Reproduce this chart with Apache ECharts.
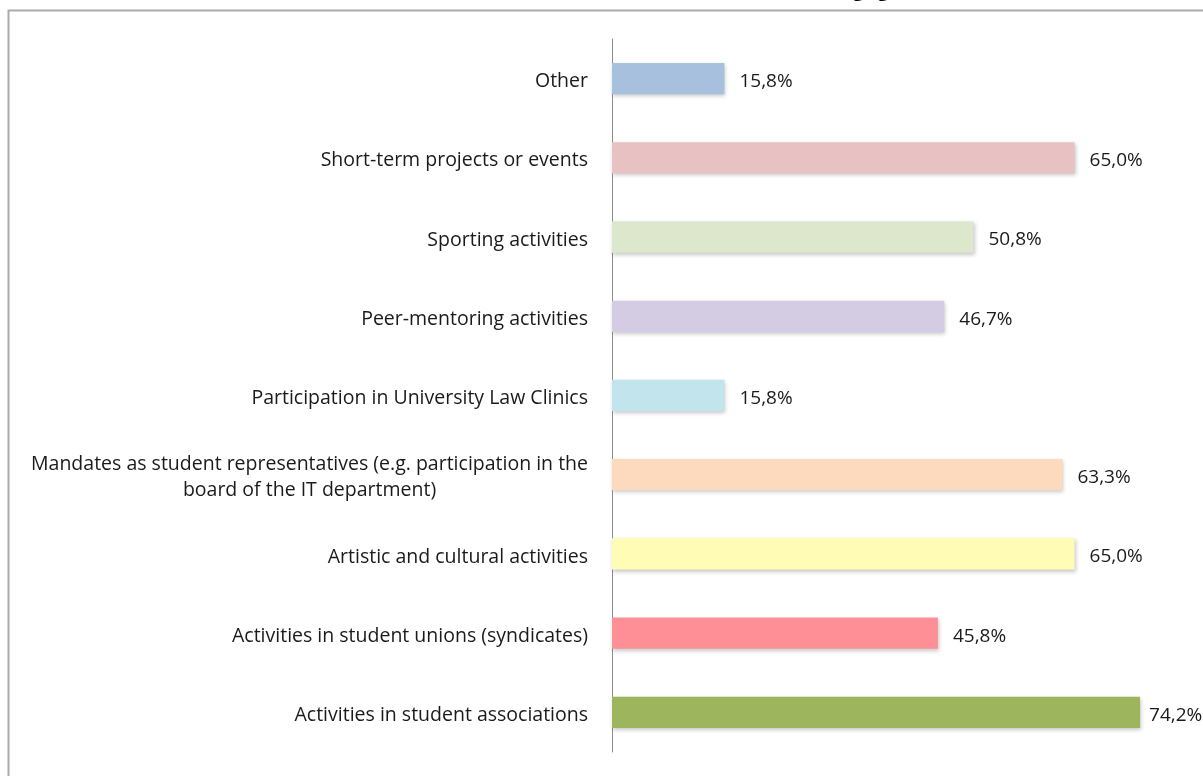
<!DOCTYPE html>
<html>
<head>
<meta charset="utf-8">
<script src="https://cdn.jsdelivr.net/npm/echarts@6/dist/echarts.min.js"></script>
<style>
html,body{margin:0;padding:0;background:#fff;}
#chart{width:1203px;height:776px;}
</style>
</head>
<body>
<div id="chart"></div>
<script>
const titleText = 'Extracurricular activities in which students engaged, N (n=120)';
const categories = [
  'Other',
  'Short-term projects or events',
  'Sporting activities',
  'Peer-mentoring activities',
  'Participation in University Law Clinics',
  'Mandates as student representatives (e.g. participation in the\nboard of the IT department)',
  'Artistic and cultural activities',
  'Activities in student unions (syndicates)',
  'Activities in student associations'
];
const values = [15.8, 65.0, 50.8, 46.7, 15.8, 63.3, 65.0, 45.8, 74.2];
const barColors = ['#a7c0de', '#e8c2c2', '#dde7cb', '#d4cce2', '#c2e4ed', '#fdd9be', '#fffcb5', '#ff8f96', '#9db55c'];

const FONT = 'Open Sans';
const chart = echarts.init(document.getElementById('chart'));
chart.setOption({
  backgroundColor: '#ffffff',
  animation: false,
  title: {
    text: titleText,
    right: 173,
    top: -25,
    textStyle: {fontFamily: FONT, fontSize: 21, fontWeight: 'bold', color: '#000'}
  },
  graphic: [{
    type: 'rect',
    shape: {x: 8.5, y: 10.5, width: 1400, height: 900},
    style: {fill: 'none', stroke: '#ababab', lineWidth: 2},
    silent: true
  }],
  grid: {left: 612, top: 39, width: 569.3, height: 713, containLabel: false},
  xAxis: {
    type: 'value', min: 0, max: 80, show: false
  },
  yAxis: {
    type: 'category',
    data: categories,
    inverse: true,
    axisLine: {show: true, lineStyle: {color: '#8c8c8c', width: 1}},
    axisTick: {show: false},
    splitLine: {show: false},
    axisLabel: {
      margin: 24,
      padding: [6, 0, 0, 0],
      formatter: function (v) {
        return v.split('\n').map(function (s) { return '{c|' + s + '}'; }).join('\n');
      },
      rich: {
        c: {align: 'center', fontFamily: FONT, fontSize: 19.5, color: '#1a1a1a', lineHeight: 26}
      },
      fontFamily: FONT, fontSize: 19.5, color: '#1a1a1a'
    }
  },
  series: [{
    type: 'bar',
    data: values.map(function (v, i) {
      const d = {value: v, itemStyle: {color: barColors[i]}};
      if (i === values.length - 1) d.label = {distance: 9};
      return d;
    }),
    barWidth: '39.5%',
    itemStyle: {
      shadowBlur: 4, shadowOffsetX: 1, shadowOffsetY: 2, shadowColor: 'rgba(0,0,0,0.22)'
    },
    label: {
      show: true, position: 'right', distance: 15,
      offset: [0, 3],
      formatter: function (p) { return p.value.toFixed(1).replace('.', ',') + '%'; },
      fontFamily: FONT, fontSize: 19, color: '#1a1a1a'
    }
  }]
});
</script>
</body>
</html>
